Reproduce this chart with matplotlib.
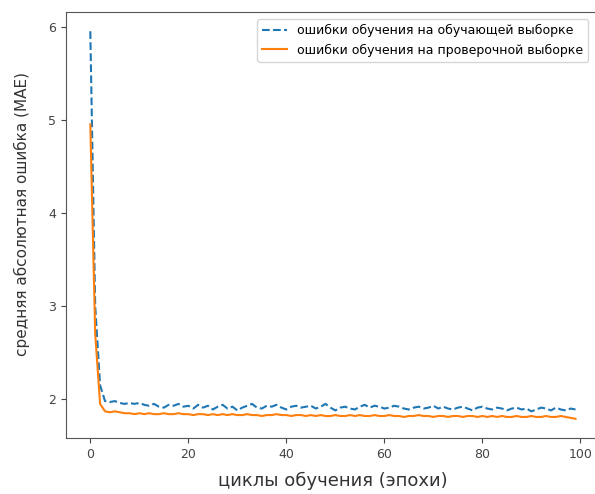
"""Training curves: MAE on train and validation sets."""

import matplotlib
matplotlib.use("Agg")
import matplotlib.pyplot as plt

# MAE per epoch
train_mae = [
    5.95, 3.00, 2.15, 1.98, 1.97, 1.98, 1.96, 1.95, 1.96, 1.95,
    1.96, 1.94, 1.93, 1.95, 1.92, 1.91, 1.94, 1.93, 1.95, 1.92,
    1.93, 1.90, 1.94, 1.91, 1.93, 1.89, 1.92, 1.94, 1.90, 1.92,
    1.88, 1.91, 1.93, 1.95, 1.91, 1.90, 1.93, 1.92, 1.94, 1.91,
    1.89, 1.92, 1.93, 1.91, 1.92, 1.93, 1.90, 1.92, 1.95, 1.91,
    1.88, 1.91, 1.92, 1.90, 1.89, 1.92, 1.94, 1.91, 1.93, 1.92,
    1.90, 1.91, 1.93, 1.92, 1.90, 1.89, 1.91, 1.92, 1.90, 1.91,
    1.93, 1.90, 1.92, 1.90, 1.89, 1.91, 1.92, 1.90, 1.88, 1.91,
    1.92, 1.90, 1.89, 1.91, 1.90, 1.88, 1.90, 1.91, 1.89, 1.90,
    1.87, 1.89, 1.91, 1.90, 1.88, 1.91, 1.89, 1.88, 1.90, 1.89,
]
val_mae = [
    4.95, 2.70, 1.95, 1.87, 1.86, 1.87, 1.86, 1.85, 1.85, 1.84,
    1.85, 1.84, 1.85, 1.84, 1.84, 1.85, 1.84, 1.84, 1.85, 1.84,
    1.84, 1.83, 1.84, 1.84, 1.83, 1.84, 1.83, 1.84, 1.83, 1.84,
    1.83, 1.83, 1.84, 1.83, 1.83, 1.82, 1.83, 1.83, 1.84, 1.83,
    1.83, 1.82, 1.83, 1.83, 1.82, 1.83, 1.82, 1.83, 1.82, 1.82,
    1.83, 1.82, 1.82, 1.83, 1.82, 1.83, 1.82, 1.82, 1.83, 1.82,
    1.82, 1.83, 1.82, 1.82, 1.81, 1.82, 1.82, 1.83, 1.82, 1.82,
    1.81, 1.82, 1.82, 1.81, 1.82, 1.82, 1.81, 1.82, 1.82, 1.81,
    1.82, 1.81, 1.82, 1.81, 1.82, 1.81, 1.81, 1.82, 1.81, 1.81,
    1.82, 1.81, 1.81, 1.82, 1.81, 1.81, 1.82, 1.81, 1.80, 1.79,
]
epochs = list(range(len(train_mae)))

fig = plt.figure(figsize=(5.95, 4.94), dpi=100)
# the original picture is cropped on the right, so the axes run past the edge
ax = fig.add_axes([0.111, 0.113, 0.897, 0.863])

ax.plot(epochs, train_mae, "--", color="#1f77b4", lw=1.5,
        label="ошибки обучения на обучающей выборке")
ax.plot(epochs, val_mae, "-", color="#ff7f0e", lw=1.5,
        label="ошибки обучения на проверочной выборке")

ax.set_xticks([0, 20, 40, 60, 80, 100])
ax.set_yticks([2, 3, 4, 5, 6])
ax.tick_params(labelsize=9, colors="#444444")
for s in ax.spines.values():
    s.set_color("#555555")
ax.set_xlabel("циклы обучения (эпохи)", fontsize=13, color="#333333", labelpad=8)
ax.set_ylabel("средняя абсолютная ошибка (MAE)", fontsize=11, color="#333333")
ax.yaxis.set_label_coords(-0.068, 0.527)
ax.legend(loc="upper right", fontsize=9, bbox_to_anchor=(0.99, 0.997))

fig.savefig("out.png", dpi=100)
